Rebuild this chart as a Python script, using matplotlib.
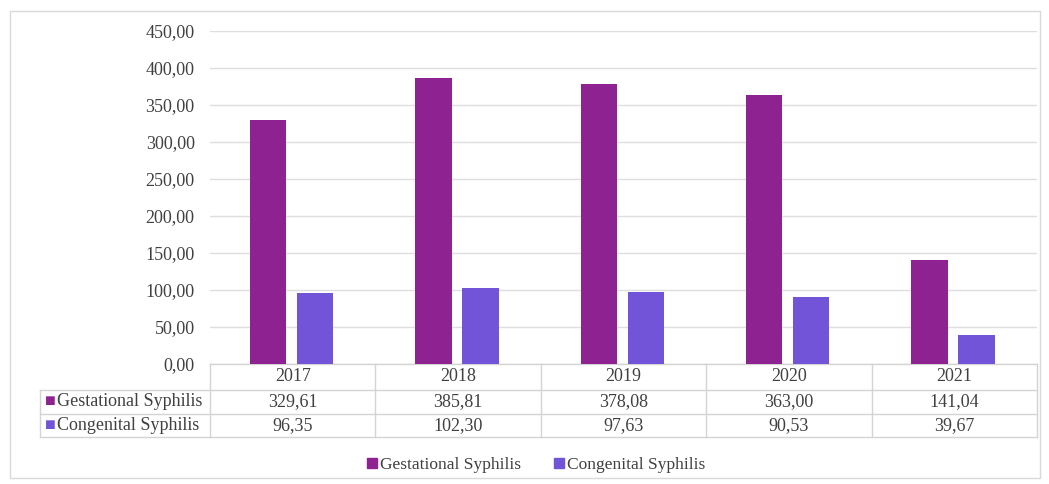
import numpy as np
import matplotlib.pyplot as plt
from matplotlib.patches import Rectangle
from matplotlib.lines import Line2D
from matplotlib.ticker import FuncFormatter

plt.rcParams['font.family'] = ['Liberation Serif', 'DejaVu Serif']

# Detection rates per year
years = ['2017', '2018', '2019', '2020', '2021']
gestational = [329.61, 385.81, 378.08, 363.00, 141.04]
congenital = [96.35, 102.30, 97.63, 90.53, 39.67]
series_names = ['Gestational Syphilis', 'Congenital Syphilis']
series_colors = ['#8E2290', '#7254D8']

text_color = '#404040'
line_color = '#d4d4d4'
fs = 13


def comma(v, pos=None):
    return f'{v:.2f}'.replace('.', ',')


fig = plt.figure(figsize=(10.49, 4.84), dpi=100)
ax = fig.add_axes([0.2002, 0.248, 0.7884, 0.688])

x = np.arange(len(years))
width = 0.22
ax.bar(x - 0.15, gestational, width, color=series_colors[0], zorder=3)
ax.bar(x + 0.135, congenital, width, color=series_colors[1], zorder=3)

ax.set_xlim(-0.5, len(years) - 0.5)
ax.set_ylim(0, 450)
ax.set_yticks(np.arange(0, 451, 50))
ax.yaxis.set_major_formatter(FuncFormatter(comma))
ax.tick_params(axis='y', length=0, pad=11, labelsize=fs, labelcolor=text_color)
ax.tick_params(axis='x', length=0, labelbottom=False)
ax.grid(axis='y', color='#dedede', linewidth=1, zorder=0)
for s in ax.spines.values():
    s.set_visible(False)

# Data table beneath the bars
row_y = [0, -0.078, -0.150, -0.219]
label_left = -0.2056
tr = ax.get_xaxis_transform()
kw = dict(color=line_color, linewidth=1, clip_on=False)

# horizontal rules
ax.plot([-0.5, 4.5], [row_y[0]] * 2, transform=tr, **kw)
for y in row_y[1:]:
    ax.plot([label_left, 1.0], [y, y], transform=ax.transAxes, **kw)
# vertical rules
for b in np.arange(-0.5, 5.0, 1.0):
    ax.plot([b, b], [row_y[0], row_y[3]], transform=tr, **kw)
ax.plot([label_left, label_left], [row_y[1], row_y[3]], transform=ax.transAxes, **kw)

for i, yr in enumerate(years):
    ax.text(i, (row_y[0] + row_y[1]) / 2, yr, transform=tr, ha='center', va='center',
            fontsize=fs, color=text_color)
for r, vals in enumerate([gestational, congenital]):
    yc = (row_y[r + 1] + row_y[r + 2]) / 2
    for i, v in enumerate(vals):
        ax.text(i, yc, comma(v), transform=tr, ha='center', va='center',
                fontsize=fs, color=text_color)
    ax.text(label_left + 0.006, yc, '\u25a0', transform=ax.transAxes, ha='left',
            va='center', fontsize=13, color=series_colors[r])
    ax.text(label_left + 0.0205, yc, series_names[r], transform=ax.transAxes, ha='left',
            va='center', fontsize=fs, color=text_color)

# Legend at the bottom
handles = [Line2D([], [], marker='s', linestyle='none', markersize=6.5,
                  color=c) for c in series_colors]
fig.legend(handles, series_names, loc='center', bbox_to_anchor=(0.51, 0.039),
           ncol=2, frameon=False, fontsize=12.5, labelcolor=text_color,
           handletextpad=0.05, columnspacing=1.8, handlelength=0.8)

# Outer frame of the chart
fig.patches.append(Rectangle((10 / 1049, 1 - 478 / 484), 1030 / 1049, 467 / 484,
                             transform=fig.transFigure, fill=False,
                             edgecolor='#d9d9d9', linewidth=1))

fig.savefig('out.png', dpi=100)
